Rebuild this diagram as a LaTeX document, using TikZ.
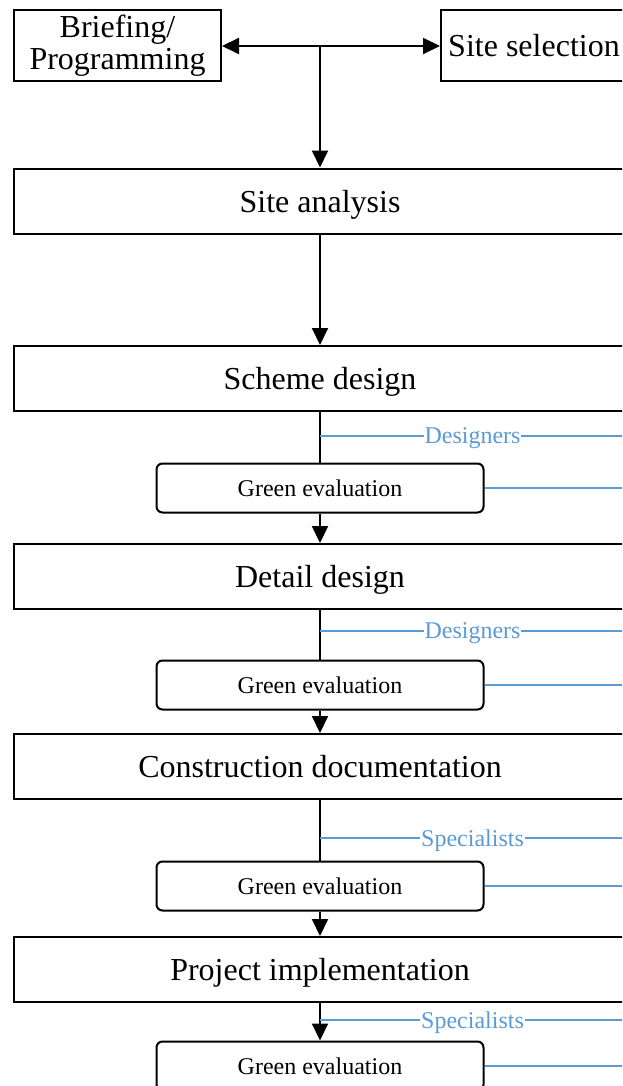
\documentclass[tikz,border=0pt]{standalone}
\usepackage{fontspec}
\setmainfont{Liberation Serif}
\usetikzlibrary{arrows.meta}
\definecolor{linkblue}{RGB}{91,155,213}
\begin{document}
\begin{tikzpicture}[x=0.5pt,y=-0.5pt,
  stagebox/.style={draw, line width=1pt, minimum width=306pt, minimum height=32.5pt,
    inner sep=0pt, text depth=0pt, font=\fontsize{16}{16}\selectfont},
  topbox/.style={draw, line width=1pt, minimum height=35.5pt, inner sep=0pt,
    align=center, font=\fontsize{16}{16}\selectfont},
  evalbox/.style={draw, line width=1pt, rounded corners=3pt, minimum width=163.5pt,
    minimum height=24.5pt, inner sep=0pt, font=\fontsize{12}{12}\selectfont},
  flow/.style={line width=1pt, -{Triangle[length=8.5pt,width=8pt]}},
  plain/.style={line width=1pt},
  link/.style={linkblue, line width=1pt},
  linklabel/.style={fill=white, text=linkblue, inner sep=0.5pt, text depth=0pt,
    font=\fontsize{12}{12}\selectfont}]
\clip (0,0) rectangle (622,1086);

% top row
\node[topbox, minimum width=103.5pt] (brief) at (117.5,45.5) {Briefing/\\Programming};
\node[topbox, minimum width=93pt, text depth=0pt] (select) at (534,45.5) {Site selection};
\coordinate (fork) at (320,46);

% main stages
\node[stagebox] (analysis) at (320,201) {Site analysis};
\node[stagebox] (scheme) at (320,378.5) {Scheme design};
\node[stagebox] (detail) at (320,576.5) {Detail design};
\node[stagebox] (constr) at (320,766.5) {Construction documentation};
\node[stagebox] (impl) at (320,969.5) {Project implementation};

% green evaluation steps
\node[evalbox] (ev1) at (320,488) {Green evaluation};
\node[evalbox] (ev2) at (320,685) {Green evaluation};
\node[evalbox] (ev3) at (320,886) {Green evaluation};
\node[evalbox] (ev4) at (320,1066) {Green evaluation};

% fork between briefing and site selection
\draw[flow] (fork) -- (fork -| brief.east);
\draw[flow] (fork) -- (fork -| select.west);
\draw[flow] (fork) -- (analysis.north);
\draw[flow] (analysis) -- (scheme);

% stage -> evaluation -> next stage
\draw[plain] (scheme.south) -- (ev1.north);
\draw[flow] (ev1) -- (detail);
\draw[plain] (detail.south) -- (ev2.north);
\draw[flow] (ev2) -- (constr);
\draw[plain] (constr.south) -- (ev3.north);
\draw[flow] (ev3) -- (impl);
\draw[flow] (impl) -- (ev4);

% participant links
\coordinate (d1a) at (320,436);  \coordinate (d1b) at (625,436);
\coordinate (e1b) at (625,488);
\coordinate (d2a) at (320,631);  \coordinate (d2b) at (625,631);
\coordinate (e2b) at (625,685);
\coordinate (s1a) at (320,838);  \coordinate (s1b) at (625,838);
\coordinate (e3b) at (625,886);
\coordinate (s2a) at (320,1020); \coordinate (s2b) at (625,1020);
\coordinate (e4b) at (625,1066);

\draw[link] (d1a) -- node[linklabel] {Designers} (d1b);
\draw[link] (ev1.east) -- (e1b);
\draw[link] (d2a) -- node[linklabel] {Designers} (d2b);
\draw[link] (ev2.east) -- (e2b);
\draw[link] (s1a) -- node[linklabel] {Specialists} (s1b);
\draw[link] (ev3.east) -- (e3b);
\draw[link] (s2a) -- node[linklabel] {Specialists} (s2b);
\draw[link] (ev4.east) -- (e4b);
\end{tikzpicture}
\end{document}
